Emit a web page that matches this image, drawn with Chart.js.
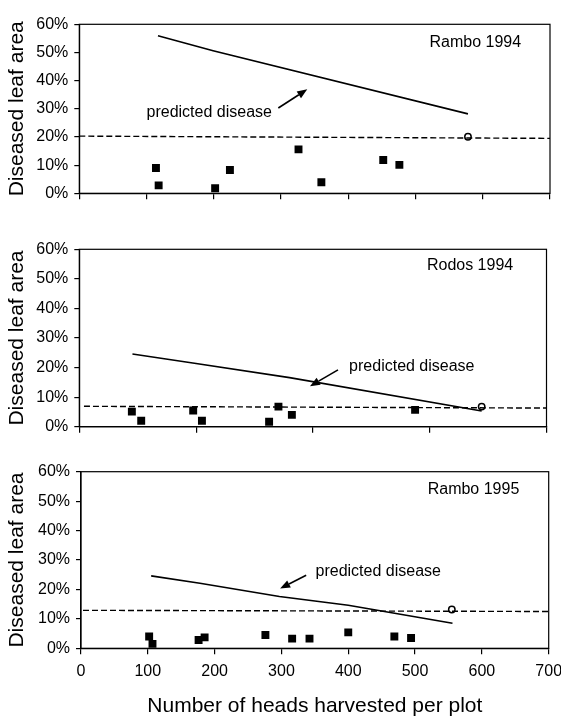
<!DOCTYPE html>
<html>
<head>
<meta charset="utf-8">
<script src="https://cdn.jsdelivr.net/npm/chart.js@4.4.1/dist/chart.umd.min.js"></script>
<style>
  body { margin: 0; background: #fff; }
  #wrap { position: relative; width: 561px; height: 718px; }
  canvas { position: absolute; left: 0; }
</style>
</head>
<body>
<div id="wrap">
  <canvas id="rambo94" width="561" height="225" style="top:0px"></canvas>
  <canvas id="rodos94" width="561" height="225" style="top:225px"></canvas>
  <canvas id="rambo95" width="561" height="268" style="top:450px"></canvas>
</div>
<script>
// RAMBO 1994
const rambo94ObsX = [114, 118, 202, 224, 326, 360, 452, 476];
const rambo94ObsY = [9.0, 2.8, 1.8, 8.3, 15.6, 3.9, 11.8, 10.1];
const rambo94PredX = [117, 199, 578];
const rambo94PredY = [55.9, 50.6, 28.2];
const rambo94ThreshX = [0, 700];
const rambo94ThreshY = [20.3, 19.5];
const rambo94Circle = [578, 20.1];

// RODOS 1994
const rodos94ObsX = [90, 106, 195, 210, 325, 341, 364, 575];
const rodos94ObsY = [5.1, 2.0, 5.5, 2.0, 1.7, 6.8, 4.0, 5.7];
const rodos94PredX = [91, 200, 360, 689];
const rodos94PredY = [24.6, 21.4, 16.6, 5.3];
const rodos94ThreshX = [8, 800];
const rodos94ThreshY = [6.9, 6.3];
const rodos94Circle = [689, 6.8];

// RAMBO 1995
const rambo95ObsX = [102, 107, 176, 185, 276, 316, 342, 400, 469, 494];
const rambo95ObsY = [4.0, 1.5, 2.8, 3.7, 4.5, 3.3, 3.3, 5.4, 4.0, 3.5];
const rambo95PredX = [105, 178, 297, 400, 556];
const rambo95PredY = [24.6, 22.1, 17.6, 14.6, 8.5];
const rambo95ThreshX = [3, 700];
const rambo95ThreshY = [12.9, 12.5];
const rambo95Circle = [555, 13.2];

// axis ticks
const yTicks = [0, 10, 20, 30, 40, 50, 60];
const yTickLabels = ['0%', '10%', '20%', '30%', '40%', '50%', '60%'];

Chart.defaults.font.family = "'Liberation Sans', Arial, sans-serif";
Chart.defaults.color = '#000';

function pts(xs, ys) {
  return xs.map((x, i) => ({ x: x, y: ys[i] }));
}

function notesPlugin(notes) {
  return {
    id: 'notes',
    afterDraw(chart) {
      const ctx = chart.ctx, a = chart.chartArea;
      const xs = chart.scales.x, ys = chart.scales.y;
      ctx.save();
      ctx.strokeStyle = '#000';
      ctx.lineWidth = 1.2;
      ctx.strokeRect(a.left, a.top, a.right - a.left, a.bottom - a.top);
      ctx.fillStyle = '#000';
      ctx.font = "16px 'Liberation Sans', Arial, sans-serif";
      ctx.textBaseline = 'middle';
      ctx.textAlign = 'right';
      ctx.fillText(notes.title, xs.getPixelForValue(notes.titleAt[0]), ys.getPixelForValue(notes.titleAt[1]));
      ctx.textAlign = 'left';
      ctx.fillText('predicted disease', xs.getPixelForValue(notes.textAt[0]), ys.getPixelForValue(notes.textAt[1]));
      // arrow
      const x1 = xs.getPixelForValue(notes.arrow[0]), y1 = ys.getPixelForValue(notes.arrow[1]);
      const x2 = xs.getPixelForValue(notes.arrow[2]), y2 = ys.getPixelForValue(notes.arrow[3]);
      const ang = Math.atan2(y2 - y1, x2 - x1), len = 10, half = 4;
      const bx = x2 - len * Math.cos(ang), by = y2 - len * Math.sin(ang);
      ctx.lineWidth = 1.6;
      ctx.beginPath(); ctx.moveTo(x1, y1); ctx.lineTo(bx, by); ctx.stroke();
      ctx.beginPath();
      ctx.moveTo(x2, y2);
      ctx.lineTo(bx - half * Math.sin(ang), by + half * Math.cos(ang));
      ctx.lineTo(bx + half * Math.sin(ang), by - half * Math.cos(ang));
      ctx.closePath();
      ctx.fill();
      ctx.restore();
    }
  };
}

function makePanel(id, H, area, xMax, xStep, showX, s, notes) {
  return new Chart(document.getElementById(id), {
    type: 'scatter',
    data: {
      datasets: [
        { data: pts(s.threshX, s.threshY), showLine: true, borderColor: '#000', borderWidth: 1.4, borderDash: [6, 3], pointRadius: 0 },
        { data: pts(s.predX, s.predY), showLine: true, borderColor: '#000', borderWidth: 1.6, pointRadius: 0 },
        { data: pts(s.obsX, s.obsY), pointStyle: 'rect', pointRadius: 5.6, backgroundColor: '#000', borderWidth: 0 },
        { data: [{ x: s.circle[0], y: s.circle[1] }], pointStyle: 'circle', pointRadius: 3.2, backgroundColor: '#fff', borderColor: '#000', borderWidth: 1.5 },
      ],
    },
    options: {
      responsive: false,
      animation: false,
      devicePixelRatio: 1,
      layout: { padding: { left: 0, right: 561 - area.right, top: area.top, bottom: 0 } },
      plugins: { legend: { display: false }, tooltip: { enabled: false } },
      scales: {
        x: {
          type: 'linear', min: 0, max: xMax,
          ticks: { stepSize: xStep, autoSkip: false, maxRotation: 0, padding: 8, font: { size: 16 },
                   callback: v => showX ? String(v) : '' },
          grid: { drawOnChartArea: false, drawTicks: true, tickLength: 6, color: '#000', lineWidth: 1.2 },
          border: { color: '#000', width: 1.2 },
          title: { display: showX, text: 'Number of heads harvested per plot', font: { size: 21 }, padding: { top: 0, bottom: -1 } },
          afterFit(sc) { sc.height = H - area.bottom; sc.paddingLeft = 0; sc.paddingRight = 0; },
        },
        y: {
          type: 'linear', min: 0, max: 60,
          afterBuildTicks(sc) { sc.ticks = yTicks.map(v => ({ value: v })); },
          ticks: { padding: 6, font: { size: 16 }, callback: v => yTickLabels[yTicks.indexOf(v)] },
          grid: { drawOnChartArea: false, drawTicks: true, tickLength: 5, color: '#000', lineWidth: 1.2 },
          border: { color: '#000', width: 1.2 },
          title: { display: true, text: 'Diseased leaf area', font: { size: 21 }, padding: { top: 5, bottom: 0 } },
          afterFit(sc) { sc.width = area.left; sc.paddingTop = 0; sc.paddingBottom = 0; },
        },
      },
    },
    plugins: [notesPlugin(notes)],
  });
}

const rambo94Chart = makePanel('rambo94', 225, { left: 79.3, right: 550, top: 24.3, bottom: 193.3 }, 700, 100, false,
  { obsX: rambo94ObsX, obsY: rambo94ObsY, predX: rambo94PredX, predY: rambo94PredY,
    threshX: rambo94ThreshX, threshY: rambo94ThreshY, circle: rambo94Circle },
  { title: 'Rambo 1994', titleAt: [657, 53.5], textAt: [100, 28.7], arrow: [296, 30.3, 339, 36.9] });

const rodos94Chart = makePanel('rodos94', 225, { left: 79.3, right: 546.5, top: 24.3, bottom: 201.7 }, 800, 200, false,
  { obsX: rodos94ObsX, obsY: rodos94ObsY, predX: rodos94PredX, predY: rodos94PredY,
    threshX: rodos94ThreshX, threshY: rodos94ThreshY, circle: rodos94Circle },
  { title: 'Rodos 1994', titleAt: [743, 54.6], textAt: [462, 20.3], arrow: [443, 19.2, 395, 13.7] });

const rambo95Chart = makePanel('rambo95', 268, { left: 81, right: 548.7, top: 21.7, bottom: 198.3 }, 700, 100, true,
  { obsX: rambo95ObsX, obsY: rambo95ObsY, predX: rambo95PredX, predY: rambo95PredY,
    threshX: rambo95ThreshX, threshY: rambo95ThreshY, circle: rambo95Circle },
  { title: 'Rambo 1995', titleAt: [656, 53.8], textAt: [351, 26.0], arrow: [337, 24.8, 298, 20.3] });
</script>
</body>
</html>
